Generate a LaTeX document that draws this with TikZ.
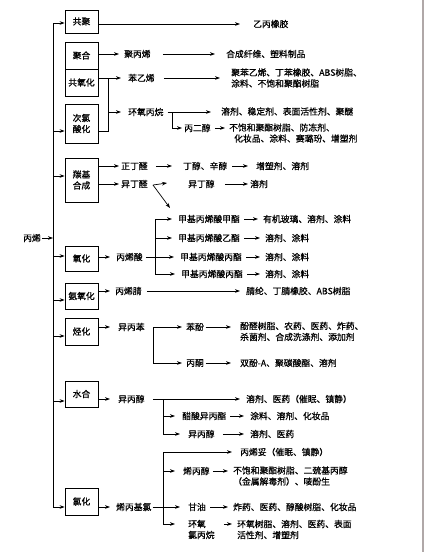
\documentclass[tikz,border=0pt]{standalone}
\usepackage{fontspec}
\newfontfamily\cjk[FakeBold=0.6]{Noto Sans CJK SC}
\usetikzlibrary{arrows.meta,calc}
\definecolor{edgegray}{HTML}{B0A8A8}
\begin{document}
\begin{tikzpicture}[x=1pt,y=-1pt,
  txt/.style={anchor=west,inner sep=0pt,font=\cjk\fontsize{8.8}{11}\selectfont,align=left},
  box/.style={draw,line width=0.8pt,minimum width=33pt,inner sep=0pt,font=\cjk\fontsize{8.8}{11}\selectfont,align=center},
  ln/.style={line width=0.7pt},
  arr/.style={ln,-{Stealth[length=5pt,width=3.6pt]}},
  darr/.style={ln,{Stealth[length=5pt,width=3.6pt]}-{Stealth[length=5pt,width=3.6pt]}}]
\useasboundingbox (0,0) rectangle (424,552);
\fill[white] (0,0) rectangle (424,552);
\fill[edgegray] (421.5,0) rectangle (424,552);

% ---- process boxes
\node[box,minimum height=23pt] (gj) at (81.5,21.5) {共聚};
\node[box,minimum height=27pt] (jh) at (81.5,55.5) {聚合};
\node[box,minimum height=27pt] (gyh) at (81.5,82.5) {共氧化};
\node[box,minimum height=39pt] (clsh) at (81.5,123.5) {次氯\\酸化};
\node[box,minimum height=44pt] (tjhc) at (81.5,180) {羰基\\合成};
\node[box,minimum height=25pt] (yh) at (81.5,258.5) {氧化};
\node[box,minimum height=26pt] (ayh) at (81.5,296) {氨氧化};
\node[box,minimum height=27pt] (th) at (81.5,331.5) {烃化};
\node[box,minimum height=26pt] (sh) at (81.5,394) {水合};
\node[box,minimum height=27pt] (lh) at (81.5,501.5) {氯化};

% ---- spine
\coordinate (st) at (53,23);
\coordinate (sb) at (53,507);
\draw[darr] (st -| gj.west) -- (st) -- (sb) -- (sb -| lh.west);
\foreach \b/\yy in {clsh/131, tjhc/176, yh/256, ayh/300, th/336, sh/401}{
  \path (53,\yy) coordinate (sp);
  \draw[arr] (sp) -- (sp -| \b.west);
}
\node[txt] (bx) at (23,238) {丙烯};
\draw[arr] ([xshift=1pt]bx.east) -- (bx.east -| st);

% ---- 共聚
\node[txt] (ybxj) at (253,24) {乙丙橡胶};
\draw[arr] (gj.east |- ybxj) -- ([xshift=-13pt]ybxj.west);

% ---- 聚合
\node[txt] (jbx) at (124,54) {聚丙烯};
\node[txt] (hcxw) at (226,54) {合成纤维、塑料制品};
\draw[arr] (jh.east |- jbx) -- ([xshift=-5pt]jbx.west);
\draw[arr] ([xshift=12pt]jbx.east) -- ([xshift=-11pt]hcxw.west);

% ---- 共氧化 / 次氯酸化
\coordinate (jn) at (108,78);
\coordinate (jnb) at (108,131);
\draw[ln] (gyh.east |- jn) -- (jn) -- (jnb) -- (jnb -| clsh.east);
\node[txt] (byx) at (128,78) {苯乙烯};
\draw[arr] (jn) -- ([xshift=-7pt]byx.west);
\node[txt] (byxp) at (231,78) {聚苯乙烯、丁苯橡胶、ABS树脂、\\涂料、不饱和聚酯树脂};
\draw[arr] ([xshift=9pt]byx.east) -- ($(byx.east -| byxp.west)+(-11,0)$);

\coordinate (jnm) at (108,112);
\node[txt] (hybw) at (128,112) {环氧丙烷};
\draw[arr] (jnm) -- ([xshift=-7pt]hybw.west);
\node[txt] (hybwp) at (221,111.5) {溶剂、稳定剂、表面活性剂、聚醚};
\draw[arr] ([xshift=4pt]hybw.east) -- ($(hybw.east -| hybwp.west)+(-10,0)$);
\coordinate (hyb) at (172,112);
\node[txt] (beic) at (184,128) {丙二醇};
\draw[arr] (hyb) |- ([xshift=-2pt]beic.west);
\node[txt] (beicp) at (229,133) {不饱和聚酯树脂、防冻剂、\\\hspace*{5pt}化妆品、涂料、赛璐玢、增塑剂};
\draw[arr] ([xshift=4pt]beic.east) -- ($(beic.east -| beicp.west)+(-4,0)$);

% ---- 羰基合成
\node[txt] (zdq) at (121,166) {正丁醛};
\draw[arr] (tjhc.east |- zdq) -- ([xshift=-2pt]zdq.west);
\node[txt] (dc) at (183,166) {丁醇、辛醇};
\draw[arr] ([xshift=8pt]zdq.east) -- ([xshift=-11pt]dc.west);
\node[txt] (zsj) at (256,166) {增塑剂、溶剂};
\draw[arr] ([xshift=5pt]dc.east) -- ([xshift=-8pt]zsj.west);

\node[txt] (ydq) at (121,184) {异丁醛};
\draw[arr] (tjhc.east |- ydq) -- ([xshift=-2pt]ydq.west);
\coordinate (ydqj) at (153,185);
\coordinate (ydqa) at (167,183);
\coordinate (ydqb) at (170,208);
\draw[arr] (ydqj) -- (ydqa);
\draw[arr] (ydqj) -- (ydqb);
\node[txt] (ydc) at (188,184) {异丁醇};
\node[txt] (rj) at (250,184) {溶剂};
\draw[arr] ([xshift=10pt]ydc.east) -- ([xshift=-2pt]rj.west);

% ---- 氧化
\node[txt] (bxs) at (116,257) {丙烯酸};
\draw[arr] (yh.east |- bxs) -- ([xshift=-6pt]bxs.west);
\coordinate (mj) at (155,257);
\coordinate (mjt) at (155,219);
\coordinate (mjb) at (155,274);
\draw[ln] ([xshift=3pt]bxs.east) -- (mj);
\draw[ln] (mjt) -- (mjb);
\node[txt] (m1) at (178,219) {甲基丙烯酸甲酯};
\node[txt] (m2) at (178,238) {甲基丙烯酸乙酯};
\node[txt] (m3) at (180,257) {甲基丙烯酸丙酯};
\node[txt] (m4) at (181,274) {甲基丙烯酸丙酯};
\node[txt] (p1) at (263,219) {有机玻璃、溶剂、涂料};
\node[txt] (p2) at (265,238) {溶剂、涂料};
\node[txt] (p3) at (265,257) {溶剂、涂料};
\node[txt] (p4) at (265,274) {溶剂、涂料};
\foreach \m/\p in {m1/p1, m2/p2, m3/p3, m4/p4}{
  \draw[arr] (mj |- \m) -- ([xshift=-6pt]\m.west);
  \draw[arr] ([xshift=4pt]\m.east) -- ($(\m.east -| \p.west)+(-5,0)$);
}

% ---- 氨氧化
\node[txt] (bxj) at (115,291) {丙烯腈};
\draw[arr] (ayh.east |- bxj) -- ([xshift=-5pt]bxj.west);
\node[txt] (jl) at (246,291) {腈纶、丁腈橡胶、ABS树脂};
\draw[arr] ([xshift=5pt]bxj.east) -- ([xshift=-6pt]jl.west);

% ---- 烃化
\node[txt] (ybb) at (118,327) {异丙苯};
\draw[arr] (th.east |- ybb) -- ([xshift=-8pt]ybb.west);
\coordinate (tj) at (153,327);
\node[txt] (bf) at (186,327) {苯酚};
\node[txt] (bt) at (186,363) {丙酮};
\draw[arr] (tj) -- ([xshift=-4pt]bf.west);
\draw[arr] (tj) |- ([xshift=-4pt]bt.west);
\node[txt] (bfp) at (240,331.5) {酚醛树脂、农药、医药、炸药、\\杀菌剂、合成洗涤剂、添加剂};
\draw[arr] ([xshift=1.5pt]bf.east) -- ($(bf.east -| bfp.west)+(-9,0)$);
\node[txt] (btp) at (240,363) {双酚-A、聚碳酸酯、溶剂};
\draw[arr] ([xshift=1.5pt]bt.east) -- ([xshift=-9pt]btp.west);

% ---- 水合
\node[txt] (ybc) at (118,399) {异丙醇};
\draw[arr] (sh.east |- ybc) -- ([xshift=-8pt]ybc.west);
\node[txt] (ybcp) at (246,399) {溶剂、医药（催眠、镇静）};
\draw[arr] ([xshift=8pt]ybc.east) -- ([xshift=-6pt]ybcp.west);
\coordinate (sj) at (163,399);
\node[txt] (csy) at (182,416) {醋酸异丙酯};
\node[txt] (ybc2) at (188,434) {异丙醇};
\draw[arr] (sj |- csy) -- ([xshift=-7pt]csy.west);
\draw[arr] (sj) |- ([xshift=-8pt]ybc2.west);
\node[txt] (csyp) at (250,416) {涂料、溶剂、化妆品};
\draw[arr] ([xshift=4pt]csy.east) -- ([xshift=-6pt]csyp.west);
\node[txt] (ybc2p) at (250,434) {溶剂、医药};
\draw[arr] ([xshift=8pt]ybc2.east) -- ([xshift=-6pt]ybc2p.west);

% ---- 氯化
\node[txt] (xbjl) at (116,507) {烯丙基氯};
\draw[arr] (lh.east |- xbjl) -- ([xshift=-6pt]xbjl.west);
\coordinate (lj) at (163,507);
\coordinate (ljt) at (163,452);
\coordinate (ljb) at (163,524);
\draw[ln] ([xshift=1pt]xbjl.east) -- (lj);
\node[txt] (bxt) at (240,452) {丙烯妥（催眠、镇静）};
\draw[arr] (ljb) -- (ljt) -- ([xshift=-8pt]bxt.west);
\node[txt] (xbc) at (183,471) {烯丙醇};
\draw[arr] (lj |- xbc) -- ([xshift=-8pt]xbc.west);
\node[txt] (xbcp) at (233,476) {不饱和聚酯树脂、二巯基丙醇\\（金属解毒剂）、唛酚生};
\draw[arr] ([xshift=3pt]xbc.east) -- ($(xbc.east -| xbcp.west)+(-5,0)$);
\node[txt] (gy) at (188,507) {甘油};
\draw[arr] (lj) -- ([xshift=-8pt]gy.west);
\node[txt] (gyp) at (233,507) {炸药、医药、醇酸树脂、化妆品};
\draw[arr] ([xshift=4pt]gy.east) -- ([xshift=-5pt]gyp.west);
\node[txt] (hylb) at (188,529.5) {环氧\\氯丙烷};
\node[txt] (hylp) at (237,529.5) {环氧树脂、溶剂、医药、表面\\活性剂、增塑剂};
\draw[arr] (ljb) -- ($(ljb -| hylb.west)+(-13,0)$);
\draw[arr] ($(hylb.east)+(9,-5.5)$) -- ($(hylb.east -| hylp.west)+(-5,-5.5)$);
\end{tikzpicture}
\end{document}
